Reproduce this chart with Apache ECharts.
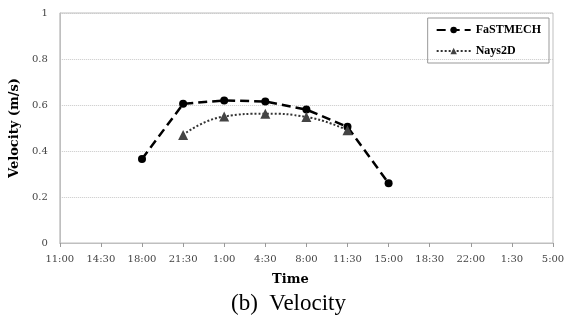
<!DOCTYPE html>
<html>
<head>
<meta charset="utf-8">
<script src="https://cdn.jsdelivr.net/npm/echarts@6/dist/echarts.min.js"></script>
<style>
  html, body { margin: 0; padding: 0; background: #fff; }
  #chart { width: 568px; height: 320px; }
</style>
</head>
<body>
<div id="chart"></div>
<script>
// time ticks along the x axis
const timeLabels = ['11:00', '14:30', '18:00', '21:30', '1:00', '4:30', '8:00', '11:30', '15:00', '18:30', '22:00', '1:30', '5:00'];
// velocity (m/s), null where no measurement
const fastmech = [null, null, 0.365, 0.605, 0.62, 0.615, 0.58, 0.505, 0.26, null, null, null, null];
const nays2d = [null, null, null, 0.47, 0.55, 0.562, 0.548, 0.49, null, null, null, null, null];
const yTicks = [0, 0.2, 0.4, 0.6, 0.8, 1];

const chart = echarts.init(document.getElementById('chart'));

const serif = "'Liberation Serif', 'DejaVu Serif', serif";
const boldSerif = "'DejaVu Serif', serif";
const tickFont = "'DejaVu Serif', serif";

chart.setOption({
  animation: false,
  title: {
    text: '(b)  Velocity',
    left: 226,
    top: 287,
    textStyle: { fontFamily: serif, fontSize: 23, fontWeight: 'normal', color: '#000' },
  },
  legend: {
    top: 18,
    right: 19,
    orient: 'vertical',
    itemGap: 9,
    itemWidth: 34,
    itemHeight: 8,
    padding: [6, 8, 6, 8],
    borderColor: '#999',
    borderWidth: 1,
    textStyle: { fontFamily: serif, fontSize: 12, fontWeight: 'bold', color: '#000' },
    data: ['FaSTMECH', 'Nays2D'],
  },
  grid: {
    left: 59,
    right: 15,
    top: 13,
    bottom: 77,
    show: true,
    borderColor: '#bfbfbf',
    borderWidth: 1,
  },
  xAxis: {
    type: 'category',
    boundaryGap: false,
    data: timeLabels,
    name: 'Time',
    nameLocation: 'middle',
    nameGap: 30,
    nameTextStyle: {
      fontFamily: boldSerif, fontSize: 13, fontWeight: 'bold', color: '#000',
      padding: [0, 32, 0, 0],
    },
    axisLine: { lineStyle: { color: '#bfbfbf' } },
    axisTick: { show: true, length: 4, lineStyle: { color: '#999' } },
    axisLabel: { fontFamily: tickFont, fontSize: 10, color: '#444', margin: 11, interval: 0 },
    splitLine: { show: false },
  },
  yAxis: {
    type: 'value',
    min: yTicks[0],
    max: yTicks[yTicks.length - 1],
    interval: 0.2,
    name: 'Velocity (m/s)',
    nameLocation: 'middle',
    nameGap: 36,
    nameTextStyle: { fontFamily: boldSerif, fontSize: 13, fontWeight: 'bold', color: '#000' },
    axisLine: { show: true, lineStyle: { color: '#bfbfbf' } },
    axisTick: { show: false },
    axisLabel: {
      fontFamily: tickFont, fontSize: 10, color: '#444', margin: 12,
      formatter: v => String(Math.round(v * 10) / 10),
    },
    splitLine: { lineStyle: { color: '#c8c8c8', type: 'dotted' } },
  },
  series: [
    {
      name: 'FaSTMECH',
      type: 'line',
      data: fastmech,
      symbol: 'circle',
      symbolSize: 8,
      lineStyle: { color: '#000', width: 2.5, type: [9, 5] },
      itemStyle: { color: '#000' },
    },
    {
      name: 'Nays2D',
      type: 'line',
      data: nays2d,
      smooth: true,
      symbol: 'triangle',
      symbolSize: 10,
      lineStyle: { color: '#333', width: 2, type: [2, 2] },
      itemStyle: { color: '#444' },
    },
  ],
});
</script>
</body>
</html>
